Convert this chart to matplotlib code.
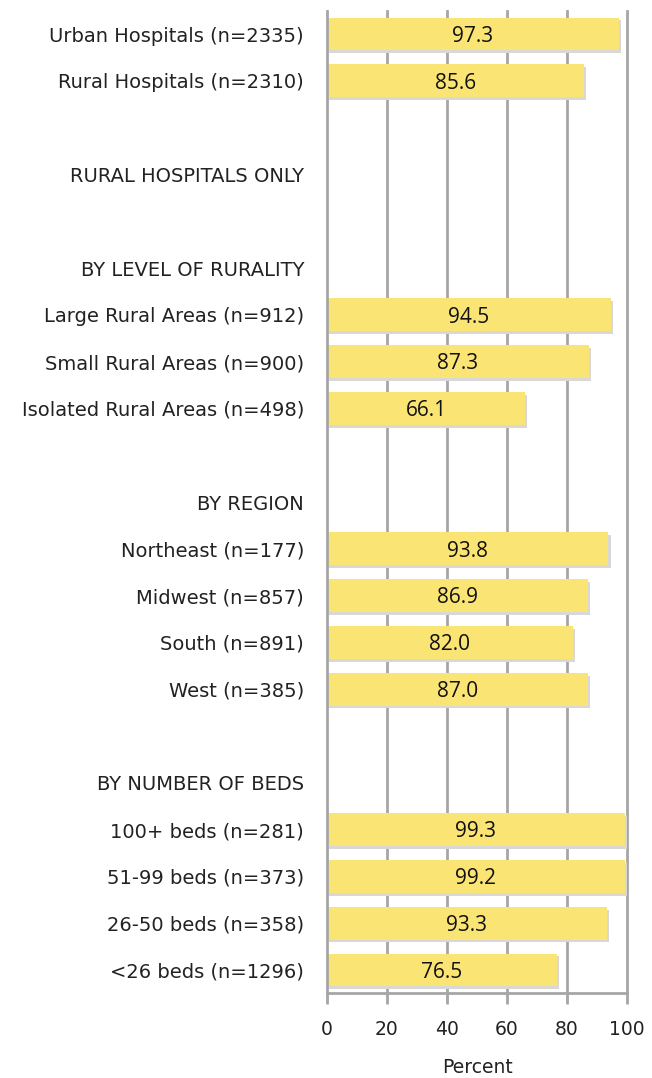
import matplotlib
matplotlib.use("Agg")
import matplotlib.pyplot as plt

plt.rcParams["font.family"] = ["DejaVu Sans"]

labels = [
    "Urban Hospitals (n=2335)", "Rural Hospitals (n=2310)", "",
    "RURAL HOSPITALS ONLY", "", "BY LEVEL OF RURALITY",
    "Large Rural Areas (n=912)", "Small Rural Areas (n=900)", "Isolated Rural Areas (n=498)", "",
    "BY REGION", "Northeast (n=177)", "Midwest (n=857)", "South (n=891)", "West (n=385)", "",
    "BY NUMBER OF BEDS", "100+ beds (n=281)", "51-99 beds (n=373)", "26-50 beds (n=358)", "<26 beds (n=1296)",
]
values = [97.3, 85.6, None, None, None, None, 94.5, 87.3, 66.1, None,
          None, 93.8, 86.9, 82.0, 87.0, None, None, 99.3, 99.2, 93.3, 76.5]
xticks = [0, 20, 40, 60, 80, 100]

W, H = 652, 1078
fig = plt.figure(figsize=(W / 100, H / 100), dpi=100)
ax = fig.add_axes([327 / W, 1 - 993.4 / H, 300 / W, (993.4 - 10.6) / H])

n = len(labels)
ypos = list(range(n))
grid_c = "#a6a6a6"
for xv in xticks[1:]:
    ax.axvline(xv, color=grid_c, lw=2, zorder=0, clip_on=False)

for y, v in zip(ypos, values):
    if v is None:
        continue
    ax.barh(y + 0.06, v, left=0.7, height=0.7, color="#d8d8d8", zorder=1)
    ax.barh(y, v, height=0.7, color="#fae474", zorder=2)
    ax.text(v / 2, y + 0.05, f"{v:.1f}", ha="center", va="center",
            fontsize=15, family="Open Sans", color="#111111", zorder=3)

ax.set_xlim(0, 100)
ax.set_ylim(n - 0.5, -0.5)
ax.set_yticks(ypos)
ax.set_yticklabels(labels, fontsize=14, color="#222222")
ax.tick_params(axis="y", length=0, pad=16.5)
ax.set_xticks(xticks)
ax.tick_params(axis="x", length=8, width=2, color=grid_c, labelsize=13.5, pad=11, labelcolor="#222222")
for s in ["top", "right"]:
    ax.spines[s].set_visible(False)
ax.spines["left"].set_color(grid_c)
ax.spines["left"].set_linewidth(2)
ax.spines["bottom"].set_color(grid_c)
ax.spines["bottom"].set_linewidth(2)
ax.set_xlabel("Percent", fontsize=13.5, labelpad=14, color="#222222")

fig.savefig("out.png", dpi=100)
